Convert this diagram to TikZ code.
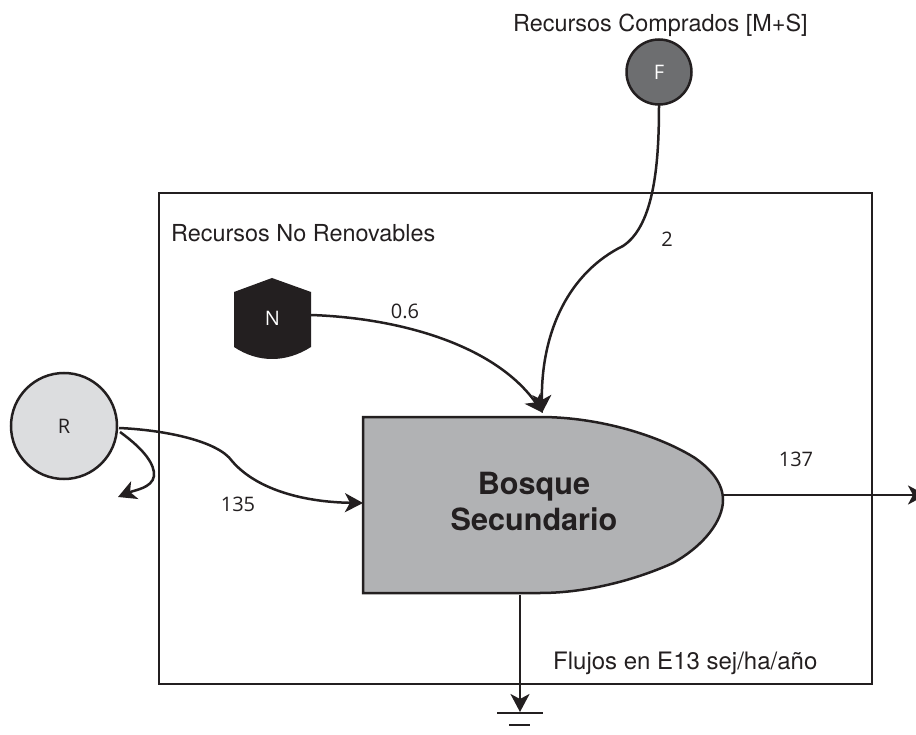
\documentclass[tikz,border=0pt]{standalone}
\usepackage{fontspec}
\setmainfont{TeX Gyre Heros}
\setsansfont{Open Sans}
\usetikzlibrary{arrows.meta}
\definecolor{ink}{HTML}{231F20}
\definecolor{rfill}{HTML}{DCDDDF}
\definecolor{ffill}{HTML}{6D6E70}
\definecolor{bfill}{HTML}{B1B2B4}
\tikzset{
  line/.style={draw=ink,line width=2.5pt},
  flow/.style={line,-{Stealth[length=18pt,width=19pt,inset=5pt]}},
  src/.style={circle,draw=ink,line width=2.5pt,inner sep=0pt},
  lab/.style={font=\sffamily\fontsize{20}{24}\selectfont,text=ink,inner sep=0pt},
  arial/.style={font=\rmfamily\fontsize{23.4}{28}\selectfont,text=ink,inner sep=0pt},
}
\begin{document}
\begin{tikzpicture}[x=1pt,y=-1pt]
\useasboundingbox (0,0) rectangle (916,735);
\clip (0,0) rectangle (916,735);
% system frame
\draw[line] (159,193) rectangle (872,684);
% Bosque shape
\path[fill=bfill,draw=ink,line width=2.5pt,line join=miter]
  (363,417) -- (540,417) .. controls (600,417) and (660,436) .. (695,458)
  .. controls (712,470) and (723,484) .. (723,500)
  .. controls (723,520) and (705,545) .. (673,563)
  .. controls (640,578) and (590,593) .. (540,593) -- (363,593) -- cycle;
\node[anchor=center,align=center,font=\rmfamily\bfseries\fontsize{30.6}{36}\selectfont,text=ink,inner sep=0pt] (B) at (534,502) {Bosque\\Secundario};
% N shape
\path[fill=ink] (234,292) -- (272,278) -- (311,292) -- (311,347)
  .. controls (286,363) and (258,363) .. (234,347) -- cycle;
\node[lab,text=white] (N) at (272.5,318) {N};
% sources
\node[src,fill=rfill,minimum size=106pt,lab,draw=ink,line width=2.5pt] (R) at (64,426) {R};
\node[src,fill=ffill,minimum size=65pt,lab,text=white,draw=ink,line width=2.5pt] (F) at (659,72) {F};
% named ends
\coordinate (rout) at (119,428);
\coordinate (rmid) at (232,461);
\coordinate (bin) at (363,503);
\coordinate (fmid) at (623,246);
\coordinate (btop) at (542,413);
\coordinate (ntop) at (543,413);
\coordinate (nout) at (311,315);
\coordinate (rloss) at (120,432);
\coordinate (rlosse) at (118,497);
\coordinate (bout) at (723,495);
\coordinate (bedge) at (926,495);
\coordinate (bbot) at (520,595);
\coordinate (gnd) at (520,712);
\coordinate (fout) at (659,105);
% connectors
\draw[flow] (rout) .. controls (165,430) and (218,441) .. (rmid)
  .. controls (255,488) and (300,502) .. (bin);
\draw[flow] (rloss) .. controls (145,450) and (155,465) .. (154,476)
  .. controls (152,488) and (135,490) .. (rlosse);
\draw[flow] (fout) .. controls (659,160) and (655,225) .. (fmid)
  .. controls (570,272) and (541,330) .. (btop);
\draw[flow] (nout) .. controls (400,318) and (495,345) .. (ntop);
\draw[flow] (bout) -- (bedge);
\draw[flow] (bbot) -- (gnd);
% ground
\coordinate (g1a) at (497,713); \coordinate (g1b) at (543,713);
\coordinate (g2a) at (509,725); \coordinate (g2b) at (530,725);
\draw[line] (g1a) -- (g1b);
\draw[line] (g2a) -- (g2b);
% labels
\node[arial,anchor=west] (t1) at (513,25) {Recursos Comprados [M+S]};
\node[arial,anchor=west] (t2) at (171,233) {Recursos No Renovables};
\node[arial,anchor=west,font=\rmfamily\fontsize{24}{28}\selectfont] (t3) at (553,663) {Flujos en E13 sej/ha/año};
\node[lab] (v1) at (405,311) {0.6};
\node[lab] (v2) at (667,239) {2};
\node[lab] (v3) at (238,504) {135};
\node[lab] (v4) at (796,459) {137};
\end{tikzpicture}
\end{document}
